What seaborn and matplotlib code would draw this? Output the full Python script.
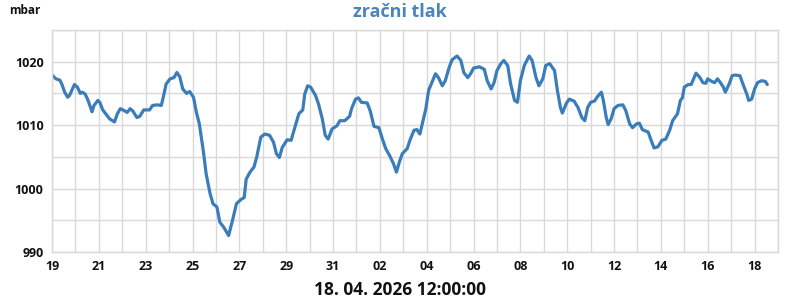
import numpy as np
import pandas as pd
import matplotlib
matplotlib.use("Agg")
import matplotlib.pyplot as plt
import matplotlib.dates as mdates
from matplotlib.ticker import MultipleLocator, FixedLocator
import seaborn as sns

start = pd.Timestamp("2026-03-19 00:00")
hours = [0, 4, 8, 10, 13, 16, 18, 23, 26, 29, 31, 34, 37, 41, 43, 47, 49, 52, 55, 59,
         64, 67, 70, 74, 77, 80, 83, 87, 90, 94, 100, 103, 108, 112, 114, 117, 121, 125, 128, 131,
         134, 138, 141, 145, 148, 151, 155, 158, 162, 165, 169, 172, 176, 181, 185, 189, 193, 197, 199, 203,
         207, 210, 214, 218, 223, 227, 230, 233, 236, 241, 245, 249, 253, 257, 259,
         262, 265, 270, 273, 277, 280, 283, 287, 292, 295, 300, 305, 307, 311, 314, 317, 323, 326, 330, 335,
         338, 342, 346, 350, 353, 356, 359, 364, 367, 371, 374, 377, 379, 383, 386,
         390, 393, 396, 400, 403, 407, 410, 415, 419, 422, 426, 429, 432, 438, 443, 446, 450, 453, 456, 460,
         463, 467, 470, 474, 477, 480, 484, 489, 492, 496, 499, 503, 506, 510, 515,
         518, 521, 523, 527, 530, 535, 539, 543, 546, 549, 552, 556, 559, 563, 565, 568, 570, 573, 576, 580,
         585, 588, 592, 595, 599, 602, 605, 611, 614, 617, 621, 625, 629, 633, 636, 641, 644,
         646, 648, 652, 655, 658, 660, 664, 667, 670, 672, 676, 679, 682, 685, 688, 690, 694, 697, 700,
         705, 708, 712, 714, 717, 720, 723, 727, 731, 733]
pressure = [1017.9, 1017.3, 1017.1, 1016.5, 1015.2, 1014.4, 1014.7, 1016.4, 1016.0, 1015.0, 1015.2, 1014.9, 1013.9, 1012.1, 1013.1, 1013.9, 1013.6, 1012.4, 1011.8, 1011.0,
            1010.5, 1011.8, 1012.6, 1012.3, 1012.0, 1012.6, 1012.2, 1011.2, 1011.4, 1012.4, 1012.4, 1013.1, 1013.2, 1013.1, 1014.4, 1016.5, 1017.3, 1017.5, 1018.3, 1017.6,
            1015.7, 1015.0, 1015.3, 1014.4, 1012.0, 1010.2, 1006.0, 1002.3, 999.2, 997.6, 997.1, 994.7, 993.9, 992.6, 995.0, 997.6, 998.2, 998.6, 1001.5, 1002.6,
            1003.4, 1005.1, 1008.1, 1008.6, 1008.4, 1007.3, 1005.5, 1004.9, 1006.5, 1007.7, 1007.6, 1009.7, 1011.8, 1012.4, 1014.9,
            1016.2, 1016.0, 1014.7, 1013.4, 1011.0, 1008.4, 1007.8, 1009.4, 1009.9, 1010.7, 1010.7, 1011.4, 1012.6, 1014.1, 1014.3, 1013.6, 1013.5, 1012.3, 1009.8, 1009.6,
            1008.1, 1006.3, 1005.2, 1003.9, 1002.6, 1004.2, 1005.5, 1006.3, 1007.7, 1009.2, 1009.3, 1008.6, 1009.9, 1012.5, 1015.5,
            1017.0, 1018.1, 1017.5, 1016.2, 1017.0, 1019.1, 1020.3, 1020.9, 1020.2, 1018.3, 1017.5, 1018.1, 1019.0, 1019.2, 1018.8, 1017.0, 1015.7, 1016.7, 1018.6, 1019.7,
            1020.2, 1019.4, 1016.5, 1013.9, 1013.6, 1017.0, 1019.4, 1020.9, 1020.2, 1017.5, 1016.2, 1017.3, 1019.4, 1019.7, 1018.6,
            1015.4, 1012.8, 1011.9, 1013.4, 1014.1, 1013.8, 1012.8, 1011.2, 1010.7, 1012.8, 1013.6, 1013.8, 1014.5, 1015.2, 1013.9, 1011.2, 1010.1, 1011.0, 1012.6, 1013.1,
            1013.2, 1012.3, 1010.2, 1009.6, 1010.2, 1010.3, 1009.3, 1008.9, 1007.6, 1006.4, 1006.6, 1007.6, 1007.8, 1009.2, 1010.7, 1011.8, 1013.9,
            1014.3, 1016.0, 1016.4, 1016.4, 1017.5, 1018.2, 1017.5, 1016.7, 1016.6, 1017.3, 1016.9, 1016.7, 1017.3, 1016.7, 1016.0, 1015.2, 1016.5, 1017.8, 1017.9,
            1017.8, 1016.5, 1014.9, 1013.9, 1014.1, 1015.7, 1016.7, 1017.0, 1016.9, 1016.4]

title = "zračni tlak"
unit = "mbar"
stamp = "18. 04. 2026 12:00:00"
tick_dates = pd.date_range("2026-03-19", "2026-04-18", freq="2D")

df = pd.DataFrame({"time": start + pd.to_timedelta(hours, unit="h"), "p": pressure})

sns.set_theme(style="white")
plt.rcParams["font.family"] = ["Open Sans", "DejaVu Sans"]

fig = plt.figure(figsize=(8, 3), dpi=100)
ax = fig.add_axes([0.065, 0.16, 0.9075, 0.74])
sns.lineplot(data=df, x="time", y="p", ax=ax, color="#3b7dbb", linewidth=2.3)

ax.set_xlim(pd.Timestamp("2026-03-19"), pd.Timestamp("2026-04-19"))
ax.set_ylim(990, 1025)
ax.yaxis.set_major_locator(MultipleLocator(10))
ax.yaxis.set_minor_locator(MultipleLocator(5))
ax.xaxis.set_major_locator(FixedLocator(mdates.date2num(tick_dates.to_pydatetime())))
ax.xaxis.set_minor_locator(mdates.DayLocator())
ax.xaxis.set_major_formatter(mdates.DateFormatter("%d"))
ax.grid(True, which="both", color="#d9d9d9", linewidth=1)
ax.set_axisbelow(True)
for s in ax.spines.values():
    s.set_color("#d9d9d9")
    s.set_linewidth(1)
ax.tick_params(which="both", length=0)
ax.tick_params(axis="x", pad=6)
ax.tick_params(axis="y", pad=6)
for lab in ax.get_xticklabels() + ax.get_yticklabels():
    lab.set_fontweight("bold")
    lab.set_fontsize(9)
    lab.set_color("#111111")
ax.set_xlabel("")
ax.set_ylabel("")

fig.text(0.5, 0.96, title, ha="center", va="center", fontsize=13, fontweight="bold", color="#4a84bd")
fig.text(0.012, 0.965, unit, ha="left", va="center", fontsize=8.5, fontweight="bold", color="#111111")
fig.text(0.5, 0.033, stamp, ha="center", va="center", fontsize=12.5, fontweight="bold", color="#111111")

fig.savefig("out.png", dpi=100)
